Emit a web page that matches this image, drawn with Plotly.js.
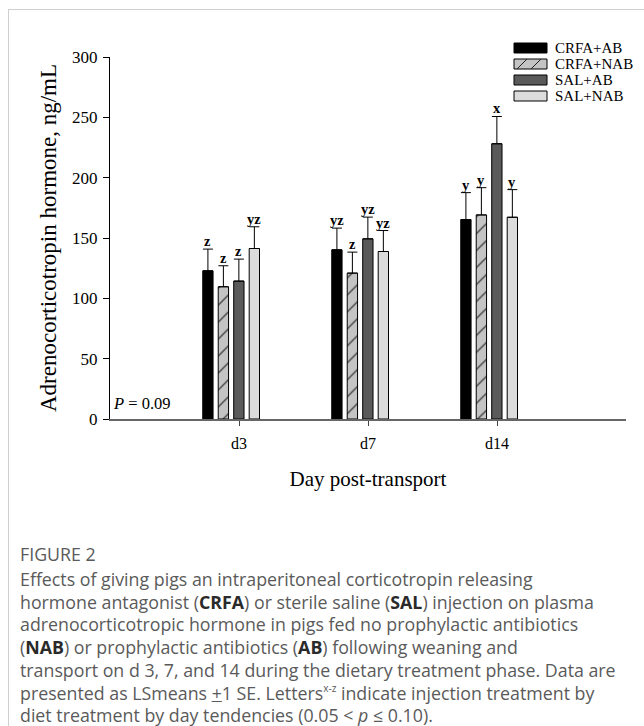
<!DOCTYPE html>
<html>
<head>
<meta charset="utf-8">
<script src="https://cdn.plot.ly/plotly-3.0.1.min.js"></script>
<style>
  html, body { margin: 0; padding: 0; background: #fff; overflow: hidden; }
  #frame { position: absolute; left: 8px; top: 9px; width: 636px; height: 717px;
           border-left: 1px solid #cfcfcf; border-top: 1px solid #cfcfcf; }
  #chart { position: absolute; left: 0; top: 0; width: 644px; height: 530px; }
  #figlabel { position: absolute; left: 20px; top: 543px; font-family: "Open Sans", sans-serif;
              font-size: 17.8px; color: #5a5a5a; line-height: 23px; }
  #caption { position: absolute; left: 20px; top: 568px; font-family: "Open Sans", sans-serif;
             font-size: 17.8px; line-height: 22.7px; color: #5a5a5a; white-space: nowrap; }
  #caption b { color: #2a2a2a; }
  #caption .sup { font-size: 10px; position: relative; top: -0.75em; line-height: 0; }
</style>
</head>
<body>
<div id="frame"></div>
<div id="chart"></div>
<div id="figlabel">FIGURE 2</div>
<div id="caption">
Effects of giving pigs an intraperitoneal corticotropin releasing<br>
hormone antagonist (<b>CRFA</b>) or sterile saline (<b>SAL</b>) injection on plasma<br>
adrenocorticotropic hormone in pigs fed no prophylactic antibiotics<br>
(<b>NAB</b>) or prophylactic antibiotics (<b>AB</b>) following weaning and<br>
transport on d 3, 7, and 14 during the dietary treatment phase. Data are<br>
presented as LSmeans <u>+</u>1 SE. Letters<span class="sup">x-z</span> indicate injection treatment by<br>
diet treatment by day tendencies (0.05 &lt; <i>p</i> &le; 0.10).
</div>
<script>
// ---- data ----
const days = ['d3', 'd7', 'd14'];
const seriesNames = ['CRFA+AB', 'CRFA+NAB', 'SAL+AB', 'SAL+NAB'];
const crfaAB = [122.8, 140.2, 165.3];
const crfaAB_se = [18.0, 18.0, 22.3];
const crfaNAB = [109.6, 120.9, 169.1];
const crfaNAB_se = [17.4, 17.4, 22.6];
const salAB = [114.3, 149.3, 228.1];
const salAB_se = [18.2, 18.0, 22.6];
const salNAB = [141.3, 138.8, 167.2];
const salNAB_se = [18.0, 17.4, 22.9];
const crfaAB_letters = ['z', 'yz', 'y'];
const crfaNAB_letters = ['z', 'z', 'y'];
const salAB_letters = ['z', 'yz', 'x'];
const salNAB_letters = ['yz', 'yz', 'y'];
const yTicks = [0, 50, 100, 150, 200, 250, 300];
const pText = 'P = 0.09';

// ---- styling ----
const values = [crfaAB, crfaNAB, salAB, salNAB];
const ses = [crfaAB_se, crfaNAB_se, salAB_se, salNAB_se];
const letters = [crfaAB_letters, crfaNAB_letters, salAB_letters, salNAB_letters];
const fills = ['#000000', '#c4c4c4', '#5a5a5a', '#dcdcdc'];
const offsets = [-0.281, -0.161, -0.041, 0.079];
const barW = 0.08;
const serif = 'Liberation Serif, Times New Roman, serif';
const xIdx = days.map((d, i) => i);

const W = 644, H = 530;
const L = 110, R = 626, T = 57, B = 419;
const px2x = p => (p - L) / (R - L);
const px2y = p => (B - p) / (B - T);

const traces = values.map((vals, s) => {
  const t = {
    type: 'bar', name: seriesNames[s], x: xIdx, y: vals,
    width: barW, offset: offsets[s], showlegend: false,
    marker: { color: fills[s], line: { color: '#000', width: 1 } },
    error_y: { type: 'data', array: ses[s], arrayminus: vals.map(() => 0), symmetric: false,
               color: '#000', thickness: 1, width: 5 },
    hoverinfo: 'x+y'
  };
  if (s === 1) {
    t.marker.pattern = { shape: '/', bgcolor: '#c4c4c4', fgcolor: '#222', size: 12, solidity: 0.1, fillmode: 'replace' };
  }
  return t;
});

const annotations = [];
values.forEach((vals, s) => {
  vals.forEach((v, i) => {
    annotations.push({
      x: i + offsets[s] + barW / 2, y: v + ses[s][i], xref: 'x', yref: 'y',
      text: '<b>' + letters[s][i] + '</b>', showarrow: false, yanchor: 'bottom', xanchor: 'center',
      yshift: -2, font: { family: serif, size: 14.5, color: '#000' }
    });
  });
});
annotations.push({
  xref: 'paper', yref: 'paper', x: px2x(111), y: px2y(415), xanchor: 'left', yanchor: 'bottom',
  text: '<i>P</i>' + pText.slice(1), showarrow: false, font: { family: serif, size: 16.5, color: '#000' }
});

// custom legend
const shapes = [];
const rowY = [48, 64, 80, 96];
seriesNames.forEach((n, s) => {
  const yc = rowY[s];
  shapes.push({ type: 'rect', xref: 'paper', yref: 'paper', x0: px2x(514), x1: px2x(547),
    y0: px2y(yc + 5), y1: px2y(yc - 5), fillcolor: fills[s], line: { color: '#000', width: 1 } });
  if (s === 1) {
    [[517, 527], [531, 541]].forEach(([a, b]) => {
      shapes.push({ type: 'line', xref: 'paper', yref: 'paper', x0: px2x(a), x1: px2x(b),
        y0: px2y(yc + 5), y1: px2y(yc - 5), line: { color: '#222', width: 1 } });
    });
  }
  annotations.push({ xref: 'paper', yref: 'paper', x: px2x(553), y: px2y(yc), xanchor: 'left', yanchor: 'middle',
    text: n, showarrow: false, font: { family: serif, size: 15, color: '#000' } });
});

const layout = {
  width: W, height: H,
  margin: { l: L, r: W - R, t: T, b: H - B, pad: 0 },
  paper_bgcolor: 'rgba(0,0,0,0)', plot_bgcolor: 'rgba(0,0,0,0)',
  barmode: 'overlay',
  xaxis: {
    range: [-1, 3], tickvals: xIdx, ticktext: days, showgrid: false, zeroline: false,
    showline: true, linecolor: '#666', linewidth: 1.5, ticks: 'outside', ticklen: 5, tickcolor: '#444',
    tickfont: { family: serif, size: 16, color: '#000' }, ticklabelstandoff: 4,
    title: { text: 'Day post-transport', font: { family: serif, size: 21, color: '#000' }, standoff: 20 },
    fixedrange: true
  },
  yaxis: {
    range: [0, 300], tickvals: yTicks, showgrid: false, zeroline: false,
    showline: true, linecolor: '#000', linewidth: 1, ticks: 'outside', ticklen: 6, tickcolor: '#000',
    tickfont: { family: serif, size: 17, color: '#000' }, ticklabelstandoff: 2,
    title: { text: 'Adrenocorticotropin hormone, ng/mL', font: { family: serif, size: 23, color: '#000' }, standoff: 9 },
    fixedrange: true
  },
  shapes: shapes,
  annotations: annotations,
  showlegend: false
};

Plotly.newPlot('chart', traces, layout, { displayModeBar: false, staticPlot: true });
</script>
</body>
</html>
